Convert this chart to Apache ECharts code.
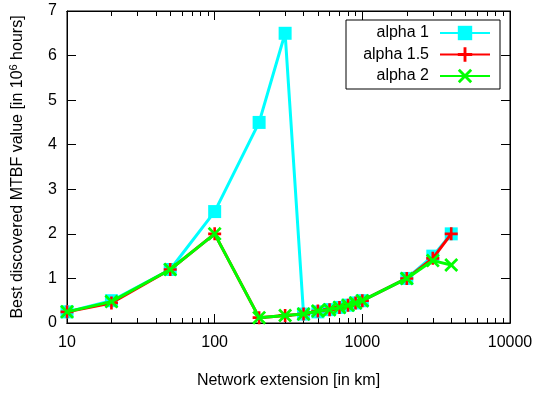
<!DOCTYPE html>
<html><head><meta charset="utf-8">
<script src="https://cdn.jsdelivr.net/npm/echarts@6/dist/echarts.min.js"></script>
<style>html,body{margin:0;padding:0;background:#fff}#c{width:537px;height:397px}</style>
</head><body><div id="c"></div>
<script>
const extension = [10,20,50,100,200,300,400,500,600,700,800,900,1000,2000,3000,4000];
const alpha1  = [0.25,0.5,1.2,2.5,4.5,6.5,0.2,0.25,0.3,0.35,0.4,0.45,0.5,1.0,1.5,2.0];
const alpha15 = [0.25,0.45,1.2,2.0,0.12,0.17,0.2,0.27,0.3,0.35,0.4,0.45,0.5,1.0,1.45,2.0];
const alpha2  = [0.25,0.48,1.2,2.0,0.12,0.17,0.2,0.27,0.3,0.35,0.4,0.45,0.5,1.0,1.4,1.3];
const seriesNames = ['alpha 1','alpha 1.5','alpha 2'];
const xMajorTicks = [10,100,1000,10000];
const xMinorTicks = [20,30,40,50,60,70,80,90,200,300,400,500,600,700,800,900,2000,3000,4000,5000,6000,7000,8000,9000];
const yTicks = [0,1,2,3,4,5,6,7];

const FONT = 'Liberation Sans, Arial, Helvetica, sans-serif';
const plusPath = 'path://M4,0H6V4H10V6H6V10H4V6H0V4H4Z';
const crossPath = 'path://M0,1.4L1.4,0L5,3.6L8.6,0L10,1.4L6.4,5L10,8.6L8.6,10L5,6.4L1.4,10L0,8.6L3.6,5Z';

const chart = echarts.init(document.getElementById('c'), null, {renderer:'canvas'});
const pts = arr => extension.map((x,i)=>[x,arr[i]]);

function xAxisDef(position, ticks, len, showLabel, extra){
  return Object.assign({
    type:'log', logBase:10, min:10, max:10000, position,
    axisLine:{show:true, lineStyle:{color:'#000', width:1}},
    axisTick:{show:true, inside:true, length:len, customValues:ticks, lineStyle:{color:'#000', width:1}},
    axisLabel:{show:showLabel, customValues:xMajorTicks, formatter:v=>String(v),
      fontFamily:FONT, fontSize:16, color:'#000', margin:12},
    splitLine:{show:false}, minorTick:{show:false}
  }, extra||{});
}

const option = {
  animation:false,
  backgroundColor:'#fff',
  grid:{left:67, right:27, top:11, bottom:74, show:true, borderColor:'#000', borderWidth:1, containLabel:false},
  xAxis:[
    xAxisDef('bottom', xMajorTicks, 9, true, {
      name:'Network extension [in km]', nameLocation:'middle', nameGap:50,
      nameTextStyle:{fontFamily:FONT, fontSize:16, color:'#000'}
    }),
    xAxisDef('bottom', xMinorTicks, 5, false),
    xAxisDef('top', xMajorTicks, 9, false),
    xAxisDef('top', xMinorTicks, 5, false)
  ],
  yAxis:[
    {type:'value', min:0, max:7, interval:1, position:'left',
     axisLine:{show:true, lineStyle:{color:'#000'}},
     axisTick:{show:true, inside:true, length:9, lineStyle:{color:'#000'}},
     axisLabel:{fontFamily:FONT, fontSize:16, color:'#000', margin:10},
     splitLine:{show:false},
     name:'{a|Best discovered MTBF value [in 10}{s|6}{a| hours]}',
     nameLocation:'middle', nameGap:40, nameRotate:90,
     nameTextStyle:{fontFamily:FONT, fontSize:16, color:'#000',
       rich:{a:{fontFamily:FONT, fontSize:16, color:'#000'},
             s:{fontFamily:FONT, fontSize:11, color:'#000', padding:[0,0,8,0]}}}
    },
    {type:'value', min:0, max:7, interval:1, position:'right',
     axisLine:{show:true, lineStyle:{color:'#000'}},
     axisTick:{show:true, inside:true, length:9, lineStyle:{color:'#000'}},
     axisLabel:{show:false}, splitLine:{show:false}}
  ],
  legend:{
    orient:'vertical', left:346, top:20, align:'right',
    backgroundColor:'#fff', borderColor:'#000', borderWidth:1, borderRadius:0,
    padding:[5,9,5,5], itemGap:5.5, itemWidth:50, itemHeight:18,
    data:seriesNames,
    formatter: n => '{a|' + n + '}',
    textStyle:{fontFamily:FONT, fontSize:16, color:'#000', lineHeight:16,
      rich:{a:{fontFamily:FONT, fontSize:16, color:'#000', width:78, align:'right', padding:[0,6,0,0]}}}
  },
  series:[
    {name:seriesNames[0], type:'line', data:pts(alpha1), symbol:'rect', symbolSize:13,
     lineStyle:{color:'#00ffff', width:3}, itemStyle:{color:'#00ffff'}, z:2},
    {name:seriesNames[1], type:'line', data:pts(alpha15), symbol:plusPath, symbolSize:13,
     lineStyle:{color:'#ff0000', width:3}, itemStyle:{color:'#ff0000'}, z:3},
    {name:seriesNames[2], type:'line', data:pts(alpha2), symbol:crossPath, symbolSize:14,
     lineStyle:{color:'#00ff00', width:3}, itemStyle:{color:'#00ff00'}, z:4}
  ]
};
chart.setOption(option);
</script></body></html>
